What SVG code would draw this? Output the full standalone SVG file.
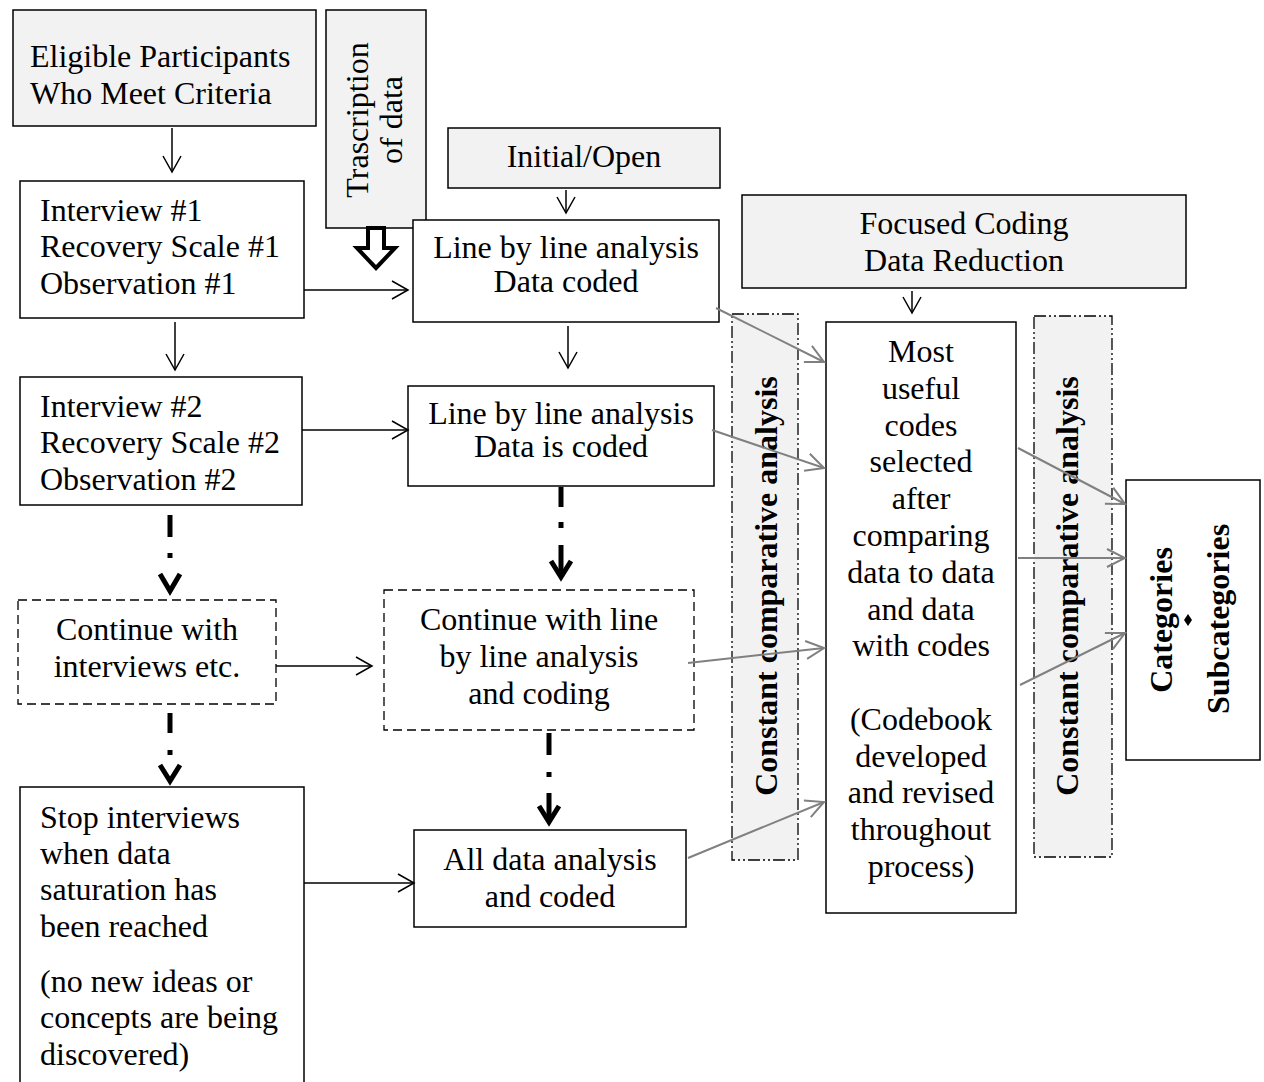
<svg xmlns="http://www.w3.org/2000/svg" width="1264" height="1082" viewBox="0 0 1264 1082">
<defs>
<style>
text{font-family:"Liberation Serif","Times New Roman",serif;font-size:32px;fill:#000}
.c{text-anchor:middle}
.b{font-weight:bold}
.box{fill:#fff;stroke:#000;stroke-width:1.5}
.hdr{fill:#f2f2f2;stroke:#000;stroke-width:1.5}
.dash{fill:#fff;stroke:#000;stroke-width:1.3;stroke-dasharray:9 5}
.bar{fill:#f2f2f2;stroke:#000;stroke-width:1.3;stroke-dasharray:12 3 2 3 2 3}
.ab{stroke:#000;stroke-width:1.5;fill:none;marker-end:url(#mb)}
.ag{stroke:#808080;stroke-width:2;fill:none;marker-end:url(#mg)}
.thick{stroke:#000;stroke-width:5;fill:none}
</style>
<marker id="mb" markerUnits="userSpaceOnUse" viewBox="0 0 20 22" refX="18" refY="11" markerWidth="20" markerHeight="22" orient="auto">
<path d="M2,2 L18,11 L2,20" fill="none" stroke="#000" stroke-width="1.5"/>
</marker>
<marker id="mg" markerUnits="userSpaceOnUse" viewBox="0 0 22 22" refX="20" refY="11" markerWidth="22" markerHeight="22" orient="auto">
<path d="M2,2 L20,11 L2,20" fill="none" stroke="#808080" stroke-width="2"/>
</marker>
</defs>
<rect width="1264" height="1082" fill="#fff"/>

<g id="bar1"><rect class="bar" x="732" y="314" width="66" height="546"/>
<text class="c b" transform="translate(777,586) rotate(-90)">Constant comparative analysis</text></g>
<g id="bar2"><rect class="bar" x="1034" y="316" width="78" height="541"/>
<text class="c b" transform="translate(1078,586) rotate(-90)">Constant comparative analysis</text></g>

<g id="eligible"><rect class="hdr" x="13" y="10" width="303" height="116"/>
<text x="30" y="67">Eligible Participants</text><text x="30" y="104">Who Meet Criteria</text></g>

<g id="transcription"><rect class="hdr" x="326" y="10" width="100" height="218"/>
<text class="c" transform="translate(368,120) rotate(-90)">Trascription</text>
<text class="c" transform="translate(402,120) rotate(-90)">of data</text></g>

<g id="initial"><rect class="hdr" x="448" y="128" width="272" height="60"/>
<text class="c" x="584" y="167">Initial/Open</text></g>

<g id="focused"><rect class="hdr" x="742" y="195" width="444" height="93"/>
<text class="c" x="964" y="234">Focused Coding</text><text class="c" x="964" y="271">Data Reduction</text></g>

<g id="interview1"><rect class="box" x="20" y="181" width="284" height="137"/>
<text x="40" y="221">Interview #1</text><text x="40" y="257">Recovery Scale #1</text><text x="40" y="294">Observation #1</text></g>

<g id="line1"><rect class="box" x="413" y="220" width="306" height="102"/>
<text class="c" x="566" y="258">Line by line analysis</text><text class="c" x="566" y="292">Data coded</text></g>

<g id="interview2"><rect class="box" x="20" y="377" width="282" height="128"/>
<text x="40" y="417">Interview #2</text><text x="40" y="453">Recovery Scale #2</text><text x="40" y="490">Observation #2</text></g>

<g id="line2"><rect class="box" x="408" y="386" width="306" height="100"/>
<text class="c" x="561" y="424">Line by line analysis</text><text class="c" x="561" y="457">Data is coded</text></g>

<g id="continue1"><rect class="dash" x="18" y="600" width="258" height="104"/>
<text class="c" x="147" y="640">Continue with</text><text class="c" x="147" y="677">interviews etc.</text></g>

<g id="continue2"><rect class="dash" x="384" y="590" width="310" height="140"/>
<text class="c" x="539" y="630">Continue with line</text><text class="c" x="539" y="667">by line analysis</text><text class="c" x="539" y="704">and coding</text></g>

<g id="stop"><rect class="box" x="20" y="787" width="284" height="310"/>
<text x="40" y="828">Stop interviews</text><text x="40" y="864">when data</text><text x="40" y="900">saturation has</text><text x="40" y="937">been reached</text>
<text x="40" y="992">(no new ideas or</text><text x="40" y="1028">concepts are being</text><text x="40" y="1065">discovered)</text></g>

<g id="alldata"><rect class="box" x="414" y="830" width="272" height="97"/>
<text class="c" x="550" y="870">All data analysis</text><text class="c" x="550" y="907">and coded</text></g>

<g id="mostuseful"><rect class="box" x="826" y="322" width="190" height="591"/>
<text class="c" x="921" y="362">Most</text><text class="c" x="921" y="399">useful</text><text class="c" x="921" y="436">codes</text><text class="c" x="921" y="472">selected</text><text class="c" x="921" y="509">after</text><text class="c" x="921" y="546">comparing</text><text class="c" x="921" y="583">data to data</text><text class="c" x="921" y="620">and data</text><text class="c" x="921" y="656">with codes</text>
<text class="c" x="921" y="730">(Codebook</text><text class="c" x="921" y="767">developed</text><text class="c" x="921" y="803">and revised</text><text class="c" x="921" y="840">throughout</text><text class="c" x="921" y="877">process)</text></g>

<g id="categories"><rect class="box" x="1126" y="480" width="134" height="280"/>
<text class="c b" transform="translate(1172,620) rotate(-90)">Categories</text>
<polygon points="1188,614 1192,620 1188,626 1184,620" fill="#000"/>
<text class="c b" transform="translate(1229,619) rotate(-90)">Subcategories</text></g>

<g id="connectors">
<line class="ab" x1="172" y1="128" x2="172" y2="172"/>
<line class="ab" x1="304" y1="290" x2="408" y2="290"/>
<line class="ab" x1="175" y1="322" x2="175" y2="370"/>
<line class="ab" x1="568" y1="326" x2="568" y2="368"/>
<line class="ab" x1="302" y1="430" x2="408" y2="430"/>
<line class="ab" x1="276" y1="666" x2="372" y2="666"/>
<line class="ab" x1="304" y1="883" x2="414" y2="883"/>
<line class="ab" x1="566" y1="190" x2="566" y2="213"/>
<line class="ab" x1="912" y1="291" x2="912" y2="313"/>
<polygon points="368,228 384,228 384,248 395,248 376,268 357,248 368,248" fill="#fff" stroke="#000" stroke-width="4" stroke-linejoin="miter"/>
<g class="thick">
<line x1="170" y1="515" x2="170" y2="537"/><line x1="170" y1="553" x2="170" y2="558"/><path d="M160,574 L170,591 L180,574"/>
<line x1="170" y1="713" x2="170" y2="733"/><line x1="170" y1="750" x2="170" y2="755"/><path d="M160,765 L170,781 L180,765"/>
<line x1="561" y1="487" x2="561" y2="507"/><line x1="561" y1="522" x2="561" y2="528"/><line x1="561" y1="545" x2="561" y2="575"/><path d="M551,561 L561,577 L571,561"/>
<line x1="549" y1="733" x2="549" y2="755"/><line x1="549" y1="772" x2="549" y2="777"/><line x1="549" y1="793" x2="549" y2="820"/><path d="M539,806 L549,822 L559,806"/>
</g>
<line class="ag" x1="716" y1="308" x2="824" y2="362"/>
<line class="ag" x1="712" y1="430" x2="824" y2="468"/>
<line class="ag" x1="688" y1="663" x2="824" y2="648"/>
<line class="ag" x1="688" y1="858" x2="824" y2="802"/>
<line class="ag" x1="1018" y1="448" x2="1125" y2="504"/>
<line class="ag" x1="1018" y1="558" x2="1125" y2="558"/>
<line class="ag" x1="1020" y1="685" x2="1125" y2="633"/>
</g>
</svg>
